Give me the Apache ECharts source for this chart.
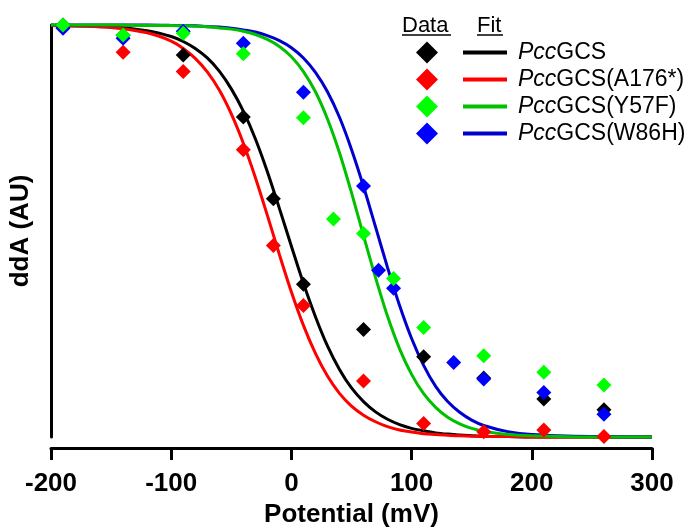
<!DOCTYPE html>
<html>
<head>
<meta charset="utf-8">
<script src="https://cdn.jsdelivr.net/npm/echarts@6/dist/echarts.min.js"></script>
<style>
html,body{margin:0;padding:0;background:#fff;}
#chart{width:692px;height:529px;}
</style>
</head>
<body>
<div id="chart"></div>
<script>
// ---- data ----
var xTicks = [-200, -100, 0, 100, 200, 300];

var potentialBlack = [-190, -140, -90, -40, -15, 10, 60, 110, 160, 210, 260];
var dataBlack      = [1.0, 0.975, 0.927, 0.777, 0.578, 0.371, 0.261, 0.195, 0.143, 0.092, 0.066];

var potentialRed = [-190, -140, -90, -40, -15, 10, 60, 110, 160, 210, 260];
var dataRed      = [0.995, 0.934, 0.887, 0.697, 0.465, 0.319, 0.136, 0.033, 0.013, 0.017, 0.001];

var potentialGreen = [-190, -140, -90, -40, 10, 35, 60, 85, 110, 160, 210, 260];
var dataGreen      = [1.0, 0.976, 0.98, 0.930, 0.775, 0.529, 0.494, 0.385, 0.266, 0.197, 0.157, 0.126];

var potentialBlue = [-190, -140, -90, -40, 10, 60, 72.5, 85, 135, 160, 210, 260];
var dataBlue      = [0.992, 0.968, 0.985, 0.956, 0.837, 0.609, 0.405, 0.361, 0.181, 0.141, 0.108, 0.055];

var fitPotential = [-200, -150, -120, -100, -90, -80, -70, -60, -50, -40, -30, -20, -10, 0, 10, 20, 30, 40, 50, 60, 70, 80, 90, 100, 110, 120, 130, 140, 150, 160, 180, 200, 250, 300];
var fitBlack = [0.999, 0.996, 0.986, 0.972, 0.960, 0.943, 0.920, 0.888, 0.845, 0.791, 0.724, 0.644, 0.555, 0.463, 0.373, 0.292, 0.221, 0.164, 0.119, 0.086, 0.061, 0.043, 0.030, 0.021, 0.015, 0.010, 0.007, 0.005, 0.003, 0.002, 0.001, 0.000, 0.000, 0.000];
var fitRed   = [0.999, 0.994, 0.981, 0.961, 0.943, 0.919, 0.886, 0.842, 0.784, 0.713, 0.630, 0.538, 0.443, 0.352, 0.271, 0.203, 0.148, 0.106, 0.075, 0.053, 0.037, 0.025, 0.017, 0.012, 0.008, 0.006, 0.004, 0.003, 0.002, 0.001, 0.001, 0.000, 0.000, 0.000];
var fitGreen = [1.000, 1.000, 0.999, 0.999, 0.998, 0.997, 0.996, 0.993, 0.990, 0.985, 0.977, 0.965, 0.948, 0.923, 0.887, 0.838, 0.772, 0.690, 0.593, 0.489, 0.387, 0.293, 0.214, 0.152, 0.105, 0.072, 0.048, 0.032, 0.021, 0.014, 0.006, 0.003, 0.000, 0.000];
var fitBlue  = [1.000, 1.000, 1.000, 0.999, 0.998, 0.998, 0.996, 0.995, 0.992, 0.988, 0.983, 0.974, 0.962, 0.945, 0.920, 0.885, 0.838, 0.776, 0.698, 0.608, 0.510, 0.411, 0.319, 0.239, 0.174, 0.123, 0.086, 0.060, 0.041, 0.028, 0.013, 0.006, 0.001, 0.000];

var seriesNames = ['PccGCS', 'PccGCS(A176*)', 'PccGCS(Y57F)', 'PccGCS(W86H)'];
var seriesSuffix = ['', '(A176*)', '(Y57F)', '(W86H)'];
// ---- end data ----

var pointColors = ['#000000', '#ff0000', '#00ff00', '#0000ff'];
var lineColors  = ['#000000', '#ff0000', '#00c000', '#0000cc'];

function zip(xs, ys) { return xs.map(function (x, i) { return [x, ys[i]]; }); }

var FONT = '"Liberation Sans", Arial, sans-serif';

function lineSeries(name, ys, color, z) {
  return {
    name: name + ' fit', type: 'line', data: zip(fitPotential, ys),
    smooth: 0.3, showSymbol: false, symbol: 'none', z: z,
    lineStyle: { color: color, width: 3 }, silent: true, clip: false
  };
}
function scatterSeries(name, xs, ys, color, z) {
  return {
    name: name, type: 'scatter', data: zip(xs, ys),
    symbol: 'diamond', symbolSize: 15, z: z, clip: false,
    itemStyle: { color: color, opacity: 1 }
  };
}

var chart = echarts.init(document.getElementById('chart'), null, { renderer: 'canvas' });

var legendChildren = [
  { type: 'text', left: 402, top: 15, style: { text: 'Data', font: '22px ' + FONT, fill: '#000' } },
  { type: 'line', shape: { x1: 402, y1: 35, x2: 451, y2: 35 }, style: { stroke: '#000', lineWidth: 1.5 } },
  { type: 'text', left: 477, top: 15, style: { text: 'Fit', font: '22px ' + FONT, fill: '#000' } },
  { type: 'line', shape: { x1: 477, y1: 35, x2: 503, y2: 35 }, style: { stroke: '#000', lineWidth: 1.5 } }
];
var rowY = [52.5, 79.5, 106.5, 133.5];
for (var i = 0; i < 4; i++) {
  var y = rowY[i];
  legendChildren.push({ type: 'polygon', shape: { points: [[427, y - 11], [438, y], [427, y + 11], [416, y]] }, style: { fill: pointColors[i] } });
  legendChildren.push({ type: 'line', shape: { x1: 463, y1: y, x2: 507, y2: y }, style: { stroke: lineColors[i], lineWidth: 4 } });
  legendChildren.push({ type: 'text', x: 518, y: y, style: {
    text: '{it|Pcc}{rg|GCS' + seriesSuffix[i] + '}', textVerticalAlign: 'middle', verticalAlign: 'middle',
    rich: { it: { font: 'italic 23px ' + FONT, fill: '#000' }, rg: { font: '23px ' + FONT, fill: '#000' } }
  } });
}

var option = {
  backgroundColor: '#ffffff',
  animation: false,
  grid: { left: 51, right: 40, top: 25, bottom: 92, containLabel: false, outerBoundsMode: 'none' },
  xAxis: {
    type: 'value', min: -200, max: 300, interval: 100, offset: 11, position: 'bottom',
    name: 'Potential (mV)', nameLocation: 'middle', nameGap: 54,
    nameTextStyle: { fontFamily: FONT, fontWeight: 'bold', fontSize: 26, color: '#000' },
    axisLine: { show: true, onZero: false, lineStyle: { color: '#000', width: 3 } },
    axisTick: { show: true, length: 12, lineStyle: { color: '#000', width: 3 } },
    axisLabel: { margin: 23, fontFamily: FONT, fontWeight: 'bold', fontSize: 26, color: '#000',
      customValues: xTicks, showMinLabel: true, showMaxLabel: true },
    splitLine: { show: false }
  },
  yAxis: {
    type: 'value', min: 0, max: 1, position: 'left',
    name: 'ddA (AU)', nameLocation: 'middle', nameGap: 17, nameRotate: 90,
    nameTextStyle: { fontFamily: FONT, fontWeight: 'bold', fontSize: 26, color: '#000' },
    axisLine: { show: true, onZero: false, lineStyle: { color: '#000', width: 3 } },
    axisTick: { show: false }, axisLabel: { show: false }, splitLine: { show: false }
  },
  graphic: [{ type: 'group', children: legendChildren }],
  series: [
    lineSeries(seriesNames[0], fitBlack, lineColors[0], 2),
    lineSeries(seriesNames[1], fitRed, lineColors[1], 3),
    lineSeries(seriesNames[3], fitBlue, lineColors[3], 4),
    lineSeries(seriesNames[2], fitGreen, lineColors[2], 5),
    scatterSeries(seriesNames[0], potentialBlack, dataBlack, pointColors[0], 10),
    scatterSeries(seriesNames[1], potentialRed, dataRed, pointColors[1], 11),
    scatterSeries(seriesNames[3], potentialBlue, dataBlue, pointColors[3], 12),
    scatterSeries(seriesNames[2], potentialGreen, dataGreen, pointColors[2], 13)
  ]
};
chart.setOption(option);
</script>
</body>
</html>
